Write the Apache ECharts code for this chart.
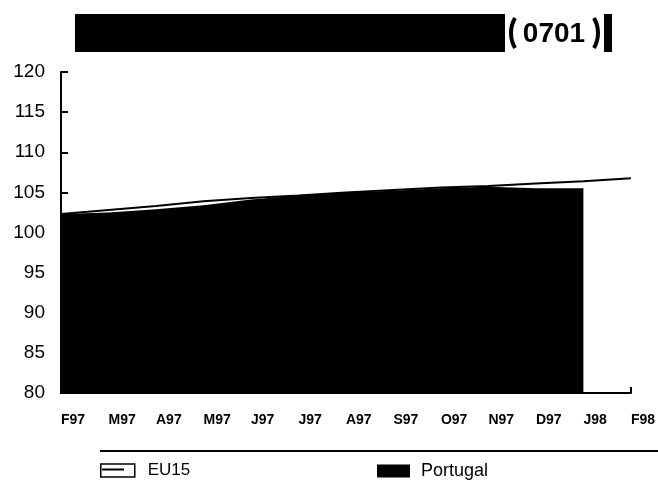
<!DOCTYPE html>
<html>
<head>
<meta charset="utf-8">
<script src="https://cdn.jsdelivr.net/npm/echarts@6/dist/echarts.min.js"></script>
<style>
html,body{margin:0;padding:0;background:#fff;}
#chart{width:658px;height:483px;}
</style>
</head>
<body>
<div id="chart"></div>
<script>
var categories = ['F97','M97','A97','M97','J97','J97','A97','S97','O97','N97','D97','J98','F98'];
var eu15 = [102.3, 102.8, 103.3, 103.9, 104.3, 104.6, 105.0, 105.3, 105.6, 105.8, 106.1, 106.4, 106.75];
var portugal = [102.3, 102.5, 102.9, 103.4, 104.1, 104.6, 105.0, 105.2, 105.5, 105.7, 105.5, 105.5];
var titleCode = '0701';
var yMin = 80, yMax = 120, yStep = 5;

var chart = echarts.init(document.getElementById('chart'), null, {renderer:'canvas'});
var FONT = '"Liberation Sans", Arial, Helvetica, sans-serif';
chart.setOption({
  animation: false,
  backgroundColor: '#fff',
  grid: {left: 61, right: 27, top: 72, bottom: 90, containLabel: false},
  xAxis: {
    type: 'category',
    boundaryGap: false,
    data: categories,
    axisLine: {show: true, lineStyle: {color: '#000', width: 2}},
    axisTick: {show: true, inside: true, length: 6, lineStyle: {color: '#000', width: 2},
      interval: function (idx) { return idx === categories.length - 1; }},
    axisLabel: {interval: 0, color: '#000', fontFamily: FONT, fontWeight: 'bold', fontSize: 14, margin: 20, align: 'left'},
    splitLine: {show: false}
  },
  yAxis: {
    type: 'value',
    min: yMin, max: yMax, interval: yStep,
    axisLine: {show: true, lineStyle: {color: '#000', width: 2}},
    axisTick: {show: true, inside: true, length: 7, lineStyle: {color: '#000', width: 2}},
    axisLabel: {color: '#000', fontFamily: FONT, fontSize: 19, margin: 16},
    splitLine: {show: false}
  },
  legend: [
    {
      left: 95, top: 457, itemWidth: 34, itemHeight: 13,
      textStyle: {color: '#000', fontFamily: FONT, fontSize: 17, padding: [0,0,0,8]},
      data: [{name: 'EU15', icon: 'rect', itemStyle: {color: '#fff', borderColor: '#000', borderWidth: 1.5}}]
    },
    {
      left: 372, top: 457, itemWidth: 33, itemHeight: 13,
      textStyle: {color: '#000', fontFamily: FONT, fontSize: 18, padding: [0,0,0,6]},
      data: [{name: 'Portugal', icon: 'rect', itemStyle: {color: '#000'}}]
    }
  ],
  series: [
    {
      name: 'Portugal', type: 'line', data: portugal, symbol: 'none',
      lineStyle: {width: 0, color: '#000'},
      itemStyle: {color: '#000'},
      areaStyle: {color: '#000', opacity: 1, origin: 'start'},
      z: 2
    },
    {
      name: 'EU15', type: 'line', data: eu15, symbol: 'none',
      lineStyle: {width: 2, color: '#000'},
      itemStyle: {color: '#fff', borderColor: '#000'},
      z: 3
    }
  ],
  graphic: [
    {type: 'rect', shape: {x: 75, y: 14, width: 537, height: 38}, style: {fill: '#000'}},
    {type: 'rect', shape: {x: 505, y: 14, width: 99, height: 38}, style: {fill: '#fff'}},
    {type: 'arc', shape: {cx: 541, cy: 33, r: 30, startAngle: Math.PI * 5 / 6, endAngle: Math.PI * 7 / 6}, style: {stroke: '#000', lineWidth: 4, fill: 'none'}},
    {type: 'arc', shape: {cx: 568, cy: 33, r: 30, startAngle: -Math.PI / 6, endAngle: Math.PI / 6}, style: {stroke: '#000', lineWidth: 4, fill: 'none'}},
    {type: 'text', x: 554, y: 34, style: {text: titleCode, fill: '#000', font: 'bold 28px ' + FONT, align: 'center', verticalAlign: 'middle'}},
    {type: 'line', shape: {x1: 100, y1: 451, x2: 658, y2: 451}, style: {stroke: '#000', lineWidth: 2}},
    {type: 'line', shape: {x1: 102, y1: 469.5, x2: 124, y2: 469.5}, style: {stroke: '#000', lineWidth: 2}, z: 100}
  ]
});
</script>
</body>
</html>
